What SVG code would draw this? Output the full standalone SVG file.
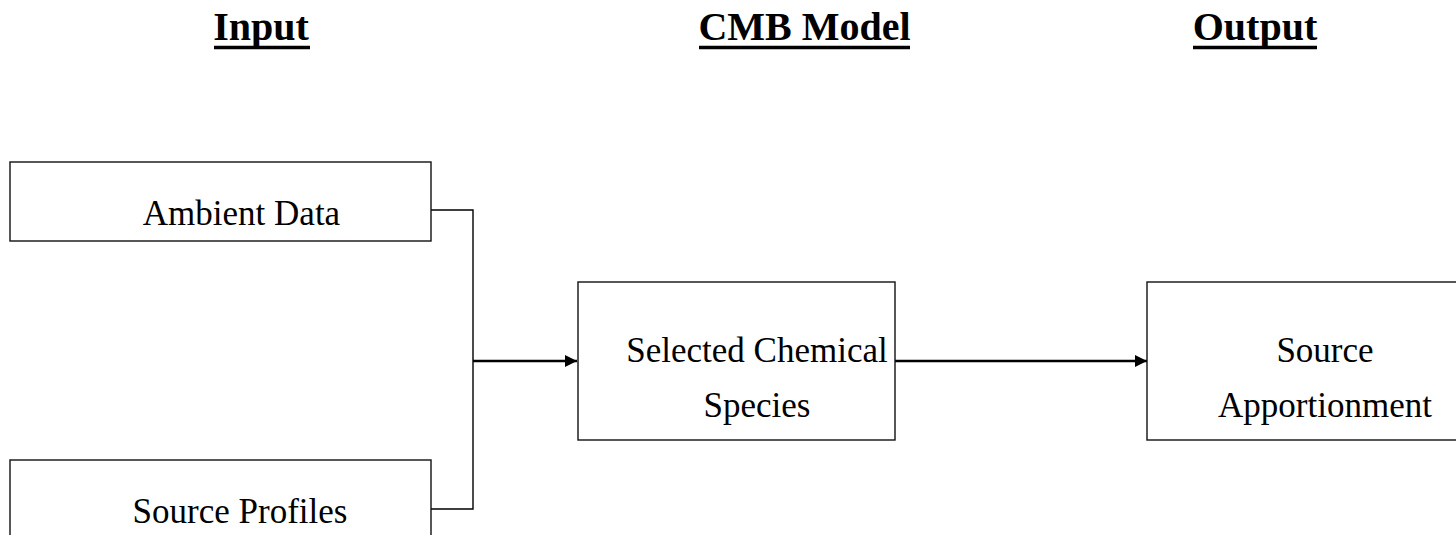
<svg xmlns="http://www.w3.org/2000/svg" width="1456" height="535" viewBox="0 0 1456 535">
<style>
.hdr{font-family:"Liberation Serif","Times New Roman",serif;font-weight:bold;font-size:40px;fill:#000;text-anchor:middle}
.lbl{font-family:"Liberation Serif","Times New Roman",serif;font-size:35px;fill:#000;text-anchor:middle}
.box{fill:#fff;stroke:#111;stroke-width:1.4}
.ul{stroke:#000;stroke-width:3.5}
.conn{fill:none;stroke:#000;stroke-width:1.4}
.arr{fill:none;stroke:#000;stroke-width:2.4}
</style>
<defs>
<marker id="ah" markerUnits="userSpaceOnUse" markerWidth="13" markerHeight="13" refX="12" refY="6" orient="auto">
<path d="M0,0 L12,6 L0,12 Z" fill="#000"/>
</marker>
</defs>
<rect width="1456" height="535" fill="#fff"/>
<g id="header-input"><text class="hdr" x="261" y="40">Input</text><line class="ul" x1="214" y1="47.5" x2="310" y2="47.5"/></g>
<g id="header-cmb"><text class="hdr" x="804.5" y="40">CMB Model</text><line class="ul" x1="699" y1="47.5" x2="910" y2="47.5"/></g>
<g id="header-output"><text class="hdr" x="1255" y="40">Output</text><line class="ul" x1="1193" y1="47.5" x2="1317" y2="47.5"/></g>
<g id="connectors">
<polyline class="conn" points="431,210 473,210 473,509 431,509"/>
<line class="arr" x1="473" y1="361" x2="577" y2="361" marker-end="url(#ah)"/>
<line class="arr" x1="895" y1="361" x2="1147" y2="361" marker-end="url(#ah)"/>
</g>
<g id="ambient-data"><rect class="box" x="10" y="162" width="421" height="79"/><text class="lbl" x="241.5" y="225">Ambient Data</text></g>
<g id="source-profiles"><rect class="box" x="10" y="460" width="421" height="90"/><text class="lbl" x="240" y="523">Source Profiles</text></g>
<g id="selected-species"><rect class="box" x="578" y="282" width="317" height="158"/><text class="lbl" x="757" y="362">Selected Chemical</text><text class="lbl" x="757" y="417">Species</text></g>
<g id="source-apportionment"><rect class="box" x="1147" y="282" width="320" height="158"/><text class="lbl" x="1325" y="362">Source</text><text class="lbl" x="1325" y="417">Apportionment</text></g>
</svg>
